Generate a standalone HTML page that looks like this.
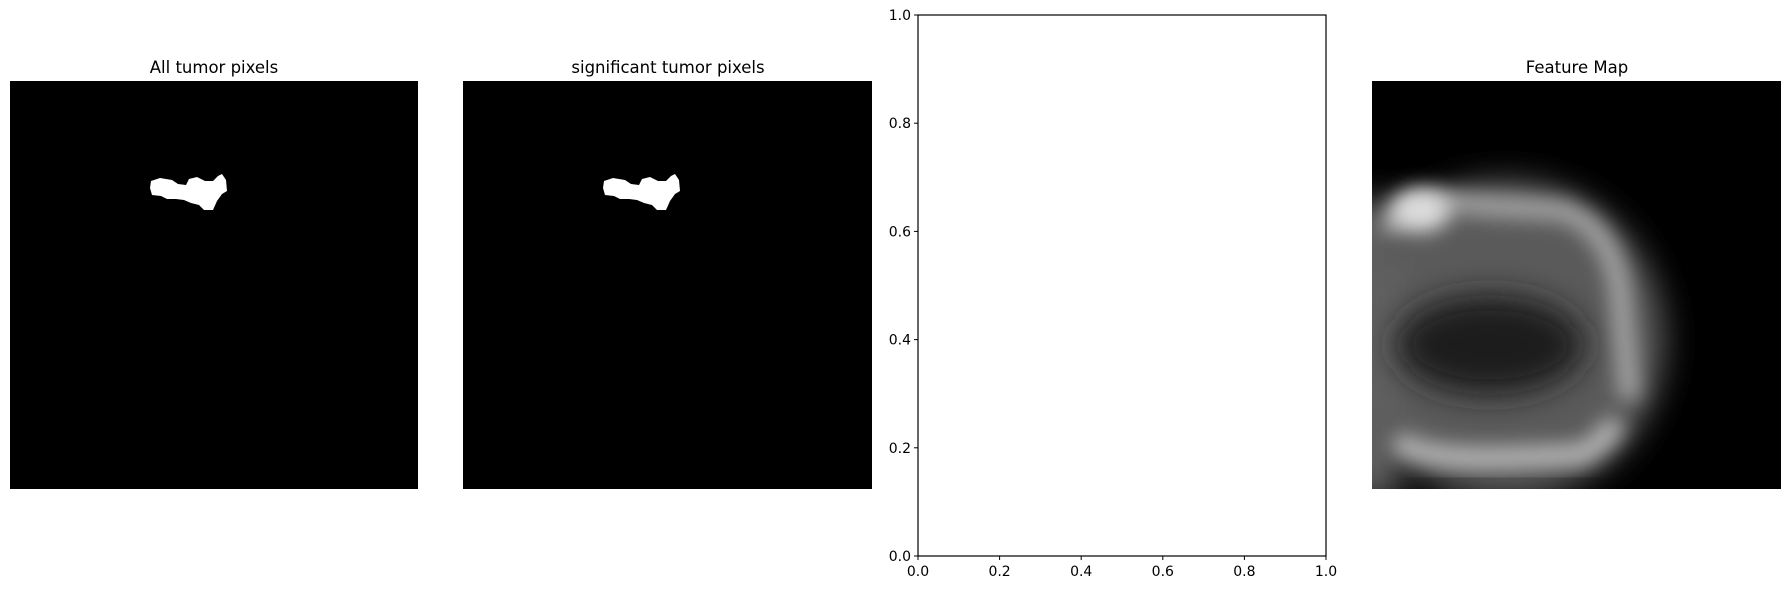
<!DOCTYPE html>
<html><head><meta charset="utf-8"><style>
body{margin:0;background:#fff;width:1790px;height:589px;overflow:hidden;font-family:"DejaVu Sans","Liberation Sans",sans-serif}
text{font-family:"DejaVu Sans","Liberation Sans",sans-serif}
</style></head><body>
<svg width="1790" height="589" viewBox="0 0 1790 589" xmlns="http://www.w3.org/2000/svg">
<defs>
<filter id="b1" x="-50%" y="-50%" width="200%" height="200%"><feGaussianBlur stdDeviation="16"/></filter>
<filter id="b2" x="-50%" y="-50%" width="200%" height="200%"><feGaussianBlur stdDeviation="10"/></filter>
<clipPath id="c4"><rect x="1372" y="81" width="409" height="408"/></clipPath>
</defs>
<g>
<text x="214" y="73" font-size="16.5" text-anchor="middle">All tumor pixels</text>
<rect x="10" y="81" width="408" height="408" fill="#000"/>
<polygon fill="#fff" points="151,181 160,178 172,180 178,184 186,185 189,179 197,177 205,181 213,181 218,176 222,174 226,180 227,191 222,194 217,201 213,210 204,210 199,205 191,203 184,200 176,199 167,199 161,196 152,195 150,188"/>
</g>
<g>
<text x="668" y="73" font-size="16.5" text-anchor="middle">significant tumor pixels</text>
<rect x="463" y="81" width="409" height="408" fill="#000"/>
<polygon fill="#fff" transform="translate(453,0)" points="151,181 160,178 172,180 178,184 186,185 189,179 197,177 205,181 213,181 218,176 222,174 226,180 227,191 222,194 217,201 213,210 204,210 199,205 191,203 184,200 176,199 167,199 161,196 152,195 150,188"/>
</g>
<g id="axes3">
<rect x="918" y="15" width="408" height="541" fill="#fff" stroke="#000" stroke-width="1.2"/>
</g>
<g>
<text x="1577" y="73" font-size="16.5" text-anchor="middle">Feature Map</text>
<rect x="1372" y="81" width="409" height="408" fill="#000"/>
<g clip-path="url(#c4)">
<ellipse cx="1505" cy="340" rx="160" ry="160" fill="#5a5a5a" filter="url(#b1)"/>
<rect x="1340" y="200" width="60" height="300" fill="#606060" filter="url(#b1)"/>
<ellipse cx="1490" cy="345" rx="95" ry="50" fill="#1c1c1c" filter="url(#b1)"/>
<path d="M1385,230 Q1420,195 1480,205 L1560,210 Q1610,225 1620,290 L1630,400" stroke="#a8a8a8" stroke-width="20" fill="none" filter="url(#b2)"/>
<ellipse cx="1420" cy="210" rx="30" ry="22" fill="#dcdcdc" filter="url(#b2)"/>
<path d="M1400,272 L1530,272" stroke="#7c7c7c" stroke-width="20" fill="none" filter="url(#b2)"/>
<path d="M1395,440 Q1420,460 1500,458 L1580,455 Q1610,440 1615,420" stroke="#b8b8b8" stroke-width="22" fill="none" filter="url(#b2)"/>
<path d="M1400,420 L1560,420" stroke="#666" stroke-width="18" fill="none" filter="url(#b2)"/>
</g>
</g>
<g id="ticks"></g>
</svg>
<script>
const xTicks=[0,0.2,0.4,0.6,0.8,1.0];
const yTicks=[0,0.2,0.4,0.6,0.8,1.0];
const x0=918,x1=1326,y0=556,y1=15;
const sx=v=>x0+(x1-x0)*v, sy=v=>y0-(y0-y1)*v;
const g=document.getElementById('ticks');
const NS='http://www.w3.org/2000/svg';
xTicks.forEach(v=>{
 const l=document.createElementNS(NS,'line');
 l.setAttribute('x1',sx(v));l.setAttribute('x2',sx(v));l.setAttribute('y1',y0);l.setAttribute('y2',y0+4);l.setAttribute('stroke','#000');
 
 
 g.appendChild(l);
 const t=document.createElementNS(NS,'text');
 t.setAttribute('x',sx(v));t.setAttribute('y',y0+20);t.setAttribute('font-size','14');t.setAttribute('text-anchor','middle');
 t.textContent=v.toFixed(1);
 
 
 g.appendChild(t);
});
yTicks.forEach(v=>{
 const l=document.createElementNS(NS,'line');
 l.setAttribute('x1',x0-4);l.setAttribute('x2',x0);l.setAttribute('y1',sy(v));l.setAttribute('y2',sy(v));l.setAttribute('stroke','#000');
 
 
 g.appendChild(l);
 const t=document.createElementNS(NS,'text');
 t.setAttribute('x',x0-7);t.setAttribute('y',sy(v)+5);t.setAttribute('font-size','14');t.setAttribute('text-anchor','end');
 t.textContent=v.toFixed(1);
 
 
 g.appendChild(t);
});
</script>
</body></html>
